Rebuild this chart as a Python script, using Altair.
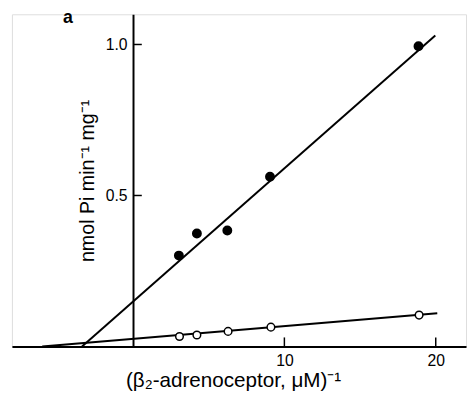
import altair as alt
import pandas as pd

# Data
filled_x = [3.03, 4.22, 6.23, 9.05, 18.86]
filled_y = [0.301, 0.374, 0.384, 0.562, 0.994]
open_x = [3.07, 4.22, 6.28, 9.11, 18.9]
open_y = [0.033, 0.038, 0.050, 0.064, 0.104]
filled_fit_x = [-3.37, 19.97]
filled_fit_y = [0.0, 1.03]
open_fit_x = [-6.0, 20.1]
open_fit_y = [0.0, 0.110]
x_ticks = [10, 20]
y_ticks = [0.5, 1.0]

FONT = "Liberation Sans"
xs = alt.Scale(domain=[-8, 22], nice=False, zero=False)
ys = alt.Scale(domain=[0, 1.1], nice=False, zero=False)

df_f = pd.DataFrame({"x": filled_x, "y": filled_y})
df_o = pd.DataFrame({"x": open_x, "y": open_y})
df_ff = pd.DataFrame({"x": filled_fit_x, "y": filled_fit_y})
df_of = pd.DataFrame({"x": open_fit_x, "y": open_fit_y})
df_xt = pd.DataFrame({"x": x_ticks, "y": [0.0] * len(x_ticks), "y2": [0.03] * len(x_ticks)})
df_yt = pd.DataFrame({"y": y_ticks, "x": [0.0] * len(y_ticks), "x2": [0.58] * len(y_ticks)})

x_axis = alt.Axis(
    values=x_ticks, format="d", ticks=False, grid=False,
    domainColor="black", domainWidth=2,
    labelFont=FONT, labelFontSize=16, labelColor="black", labelPadding=6,
    title="(β₂-adrenoceptor, μM)⁻¹", titleFont=FONT, titleFontSize=21,
    titleFontWeight="normal", titleColor="black", titlePadding=2,
    titleX=225, titleAlign="center",
)
y_axis = alt.Axis(
    values=y_ticks, format=".1f", ticks=False, grid=False,
    domainColor="black", domainWidth=2, offset=-123.2,
    labelFont=FONT, labelFontSize=16, labelColor="black", labelPadding=6,
    title="nmol Pi min⁻¹ mg⁻¹", titleFont=FONT, titleFontSize=20,
    titleFontWeight="normal", titleColor="black", titlePadding=8,
)

base_axes = alt.Chart(df_ff).mark_line(stroke="black", strokeWidth=2).encode(
    x=alt.X("x:Q", scale=xs, axis=x_axis),
    y=alt.Y("y:Q", scale=ys, axis=y_axis),
)
open_line = alt.Chart(df_of).mark_line(stroke="black", strokeWidth=2).encode(
    x=alt.X("x:Q", scale=xs), y=alt.Y("y:Q", scale=ys)
)
xt = alt.Chart(df_xt).mark_rule(stroke="black", strokeWidth=1.5).encode(
    x=alt.X("x:Q", scale=xs), y=alt.Y("y:Q", scale=ys), y2="y2:Q"
)
yt = alt.Chart(df_yt).mark_rule(stroke="black", strokeWidth=1.5).encode(
    y=alt.Y("y:Q", scale=ys), x=alt.X("x:Q", scale=xs), x2="x2:Q"
)
pts_f = alt.Chart(df_f).mark_point(filled=True, fill="black", stroke="black", size=65, opacity=1).encode(
    x=alt.X("x:Q", scale=xs), y=alt.Y("y:Q", scale=ys)
)
pts_o = alt.Chart(df_o).mark_point(filled=True, fill="white", stroke="black", strokeWidth=1.5, size=60, opacity=1).encode(
    x=alt.X("x:Q", scale=xs), y=alt.Y("y:Q", scale=ys)
)
label = alt.Chart(pd.DataFrame({"t": ["a"]})).mark_text(
    font=FONT, fontSize=18, fontWeight="bold", align="left", baseline="alphabetic", color="black"
).encode(x=alt.value(52), y=alt.value(8.5), text="t:N")

chart = alt.layer(base_axes, open_line, xt, yt, pts_f, pts_o, label).properties(
    width=462, height=338,
    autosize=alt.AutoSizeParams(type="none"),
    padding={"left": 4, "top": 3, "right": 1, "bottom": 48},
).configure_view(stroke=None).configure(background="white")

chart.save("out.html", embed_options={"renderer": "svg", "actions": False})
